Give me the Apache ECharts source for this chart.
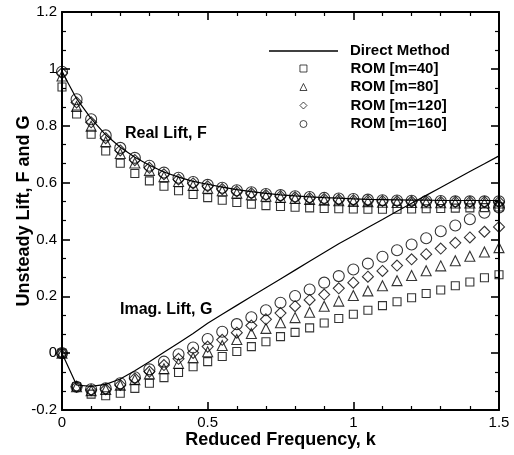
<!DOCTYPE html>
<html lang="en">
<head>
    <meta charset="UTF-8">
    <title>Unsteady Lift</title>
    <script src="https://cdn.jsdelivr.net/npm/echarts@6/dist/echarts.min.js"></script>
    <style>
        body { margin: 0; background: #fff; }
    </style>
</head>
<body>
    <div id="main" style="width: 514px;height:455px;"></div>

    <script type="text/javascript">
        // reduced frequency samples
        var kValues = [0, 0.05, 0.1, 0.15, 0.2, 0.25, 0.3, 0.35, 0.4, 0.45, 0.5,
            0.55, 0.6, 0.65, 0.7, 0.75, 0.8, 0.85, 0.9, 0.95, 1.0,
            1.05, 1.1, 1.15, 1.2, 1.25, 1.3, 1.35, 1.4, 1.45, 1.5];

        // Direct Method
        var directF = [0.99, 0.895, 0.825, 0.768, 0.724, 0.689, 0.661, 0.637, 0.619, 0.604, 0.594,
            0.584, 0.575, 0.568, 0.562, 0.557, 0.553, 0.550, 0.547, 0.545, 0.543,
            0.541, 0.540, 0.539, 0.538, 0.538, 0.537, 0.537, 0.537, 0.537, 0.537];
        var directG = [0, -0.112, -0.117, -0.110, -0.091, -0.062, -0.030, 0.003, 0.036, 0.069, 0.105,
            0.137, 0.168, 0.199, 0.230, 0.261, 0.292, 0.323, 0.354, 0.385, 0.413,
            0.442, 0.470, 0.499, 0.527, 0.555, 0.583, 0.611, 0.639, 0.666, 0.694];

        // ROM m=40
        var rom40F = [0.936, 0.841, 0.770, 0.711, 0.668, 0.632, 0.606, 0.587, 0.571, 0.558, 0.547,
            0.538, 0.530, 0.524, 0.519, 0.516, 0.513, 0.511, 0.509, 0.508, 0.507,
            0.506, 0.506, 0.506, 0.507, 0.508, 0.509, 0.510, 0.511, 0.512, 0.514];
        var rom40G = [0, -0.118, -0.144, -0.150, -0.141, -0.124, -0.106, -0.086, -0.068, -0.048, -0.030,
            -0.012, 0.006, 0.023, 0.040, 0.058, 0.073, 0.089, 0.106, 0.122, 0.137,
            0.151, 0.167, 0.181, 0.195, 0.210, 0.222, 0.237, 0.250, 0.265, 0.276];

        // ROM m=80
        var rom80F = [0.975, 0.868, 0.798, 0.744, 0.702, 0.669, 0.643, 0.621, 0.604, 0.590, 0.580,
            0.571, 0.563, 0.557, 0.552, 0.548, 0.544, 0.541, 0.538, 0.536, 0.534,
            0.533, 0.531, 0.530, 0.530, 0.529, 0.529, 0.528, 0.528, 0.528, 0.528];
        var rom80G = [0, -0.118, -0.132, -0.128, -0.113, -0.093, -0.073, -0.055, -0.036, -0.016, 0.005,
            0.027, 0.048, 0.069, 0.087, 0.107, 0.125, 0.144, 0.165, 0.183, 0.203,
            0.219, 0.237, 0.255, 0.273, 0.290, 0.307, 0.325, 0.341, 0.356, 0.371];

        // ROM m=120
        var rom120F = [0.985, 0.882, 0.812, 0.756, 0.713, 0.679, 0.652, 0.629, 0.611, 0.597, 0.587,
            0.577, 0.569, 0.562, 0.556, 0.552, 0.548, 0.545, 0.542, 0.540, 0.538,
            0.537, 0.535, 0.534, 0.533, 0.533, 0.532, 0.532, 0.532, 0.532, 0.532];
        var rom120G = [0, -0.118, -0.130, -0.127, -0.112, -0.089, -0.065, -0.042, -0.020, 0.001, 0.023,
            0.047, 0.072, 0.097, 0.119, 0.141, 0.165, 0.187, 0.206, 0.228, 0.248,
            0.269, 0.289, 0.308, 0.330, 0.348, 0.368, 0.388, 0.407, 0.427, 0.444];

        // ROM m=160
        var rom160F = [0.99, 0.893, 0.823, 0.766, 0.722, 0.687, 0.659, 0.635, 0.617, 0.602, 0.592,
            0.582, 0.573, 0.566, 0.560, 0.556, 0.552, 0.549, 0.546, 0.544, 0.542,
            0.540, 0.538, 0.537, 0.536, 0.535, 0.535, 0.534, 0.534, 0.534, 0.534];
        var rom160G = [0, -0.118, -0.127, -0.124, -0.106, -0.085, -0.057, -0.030, -0.004, 0.020, 0.050,
            0.075, 0.102, 0.126, 0.151, 0.177, 0.201, 0.224, 0.248, 0.271, 0.294,
            0.315, 0.339, 0.362, 0.382, 0.404, 0.429, 0.449, 0.471, 0.494, 0.512];

        var romNames = ['ROM [m=40]', 'ROM [m=80]', 'ROM [m=120]', 'ROM [m=160]'];

        var font = "'Liberation Sans', Arial, Helvetica, sans-serif";

        function pairs(vals) {
            return kValues.map(function (k, i) { return [k, vals[i]]; });
        }

        function romSeries(name, symbol, size, fVals, gVals) {
            return {
                name: name,
                type: 'scatter',
                symbol: symbol,
                symbolSize: size,
                itemStyle: { color: 'rgba(0,0,0,0)', borderColor: '#000', borderWidth: 1.1 },
                data: pairs(fVals).concat(pairs(gVals))
            };
        }

        var myChart = echarts.init(document.getElementById('main'));

        var axisCommon = {
            type: 'value',
            axisLine: { show: true, onZero: false, lineStyle: { color: '#000', width: 2 } },
            axisTick: { show: true, inside: true, length: 8, lineStyle: { color: '#000', width: 1.6 } },
            minorTick: { show: true, length: 4, lineStyle: { color: '#000', width: 1.2 } },
            splitLine: { show: false }
        };

        var legendText = { fontFamily: font, fontWeight: 'bold', fontSize: 15, color: '#000' };

        var option = {
            animation: false,
            grid: { left: 62, right: 15, top: 12, bottom: 45, outerBoundsMode: 'none' },
            legend: [
                {
                    // line entry
                    orient: 'vertical',
                    left: 264,
                    top: 38.5,
                    itemWidth: 69,
                    itemHeight: 1.3,
                    data: [{ name: 'Direct Method', icon: 'rect', itemStyle: { color: '#000' } }],
                    textStyle: Object.assign({ padding: [0, 0, 0, 7] }, legendText)
                },
                {
                    // symbol entries
                    orient: 'vertical',
                    left: 294.5,
                    top: 56,
                    itemWidth: 7,
                    itemHeight: 7,
                    itemGap: 3.5,
                    itemStyle: { borderWidth: 0.9 },
                    data: romNames,
                    textStyle: Object.assign({ padding: [0, 0, 0, 38.5] }, legendText)
                }
            ],
            xAxis: [
                Object.assign({}, axisCommon, {
                    min: 0, max: 1.5, interval: 0.5,
                    minorTick: Object.assign({}, axisCommon.minorTick, { splitNumber: 5 }),
                    name: 'Reduced Frequency, k',
                    nameLocation: 'middle',
                    nameGap: 21,
                    nameMoveOverlap: false,
                    nameTextStyle: { fontFamily: font, fontWeight: 'bold', fontSize: 18, color: '#000' },
                    axisLabel: { margin: 5, fontFamily: font, fontSize: 15, color: '#000' }
                }),
                Object.assign({}, axisCommon, {
                    position: 'top',
                    min: 0, max: 1.5, interval: 0.5,
                    minorTick: Object.assign({}, axisCommon.minorTick, { splitNumber: 5 }),
                    axisLabel: { show: false }
                })
            ],
            yAxis: [
                Object.assign({}, axisCommon, {
                    min: -0.2, max: 1.2, interval: 0.2,
                    minorTick: Object.assign({}, axisCommon.minorTick, { splitNumber: 3 }),
                    name: 'Unsteady Lift, F and G',
                    nameLocation: 'middle',
                    nameGap: 29,
                    nameMoveOverlap: false,
                    nameTextStyle: { fontFamily: font, fontWeight: 'bold', fontSize: 18, color: '#000' },
                    axisLabel: { margin: 5, fontFamily: font, fontSize: 15, color: '#000' }
                }),
                Object.assign({}, axisCommon, {
                    position: 'right',
                    min: -0.2, max: 1.2, interval: 0.2,
                    minorTick: Object.assign({}, axisCommon.minorTick, { splitNumber: 3 }),
                    axisLabel: { show: false }
                })
            ],
            graphic: [
                {
                    type: 'text', left: 125, top: 126,
                    style: { text: 'Real Lift, F', font: 'bold 16px ' + font, fill: '#000' }
                },
                {
                    type: 'text', left: 120, top: 302,
                    style: { text: 'Imag. Lift, G', font: 'bold 16px ' + font, fill: '#000' }
                }
            ],
            series: [
                {
                    name: 'Direct Method', type: 'line', symbol: 'none',
                    lineStyle: { color: '#000', width: 1.2 },
                    data: pairs(directF)
                },
                {
                    name: 'Direct Method', type: 'line', symbol: 'none',
                    lineStyle: { color: '#000', width: 1.2 },
                    data: pairs(directG)
                },
                romSeries(romNames[0], 'rect', 8, rom40F, rom40G),
                romSeries(romNames[1], 'triangle', 10, rom80F, rom80G),
                romSeries(romNames[2], 'diamond', 11, rom120F, rom120G),
                romSeries(romNames[3], 'circle', 11, rom160F, rom160G)
            ]
        };

        myChart.setOption(option);
    </script>
</body>
</html>
